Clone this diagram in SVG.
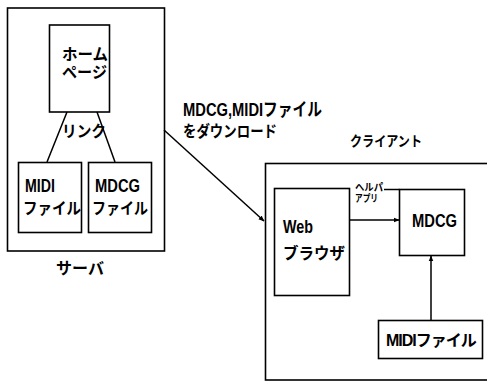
<svg xmlns="http://www.w3.org/2000/svg" width="487" height="382" viewBox="0 0 487 382">
<style>
.box{fill:none;stroke:#000;stroke-width:1.6}
.ln{fill:none;stroke:#000;stroke-width:1.5}
text{font-family:"Liberation Sans","Noto Sans CJK JP",sans-serif;font-weight:bold;fill:#000}
.t16{font-size:16px}
.t18{font-size:18px}
.t10{font-size:10px}
</style>
<defs>
<marker id="ah" viewBox="0 0 10 10" refX="9" refY="5" markerWidth="6" markerHeight="6" orient="auto" markerUnits="userSpaceOnUse">
<path d="M0,1 L10,5 L0,9 Z" fill="#000"/>
</marker>
</defs>
<rect width="487" height="382" fill="#fff"/>
<g id="server">
<rect class="box" x="7.5" y="8" width="157" height="243"/>
<text class="t16" x="80" y="274" text-anchor="middle">サーバ</text>
</g>
<g id="homepage">
<rect class="box" x="49.5" y="25" width="60" height="87"/>
<text class="t16" x="62" y="59.5" textLength="46" lengthAdjust="spacingAndGlyphs">ホーム</text>
<text class="t16" x="62" y="77.5" textLength="45" lengthAdjust="spacingAndGlyphs">ページ</text>
</g>
<g id="midi-file-server">
<rect class="box" x="18.5" y="162.5" width="63" height="70"/>
<text class="t18" x="25" y="192" textLength="30" lengthAdjust="spacingAndGlyphs">MIDI</text>
<text class="t16" x="23" y="214" textLength="58" lengthAdjust="spacingAndGlyphs">ファイル</text>
</g>
<g id="mdcg-file-server">
<rect class="box" x="88.5" y="162.5" width="63" height="70"/>
<text class="t18" x="95" y="192" textLength="45" lengthAdjust="spacingAndGlyphs">MDCG</text>
<text class="t16" x="92" y="214" textLength="56" lengthAdjust="spacingAndGlyphs">ファイル</text>
</g>
<g id="client">
<rect class="box" x="265.5" y="163.5" width="230" height="216.5"/>
<text class="t16" x="350" y="146" textLength="72" lengthAdjust="spacingAndGlyphs" style="font-size:14px">クライアント</text>
</g>
<g id="browser">
<rect class="box" x="274.5" y="188.5" width="75" height="107"/>
<text class="t18" x="283" y="233" textLength="30" lengthAdjust="spacingAndGlyphs">Web</text>
<text class="t16" x="283" y="258.5" textLength="62" lengthAdjust="spacingAndGlyphs">ブラウザ</text>
</g>
<g id="mdcg">
<rect class="box" x="399.5" y="189.5" width="65" height="66"/>
<text class="t18" x="412" y="227" textLength="45" lengthAdjust="spacingAndGlyphs">MDCG</text>
</g>
<g id="midi-file-client">
<rect class="box" x="378.5" y="320.5" width="104" height="38"/>
<text class="t16" x="386" y="346" style="letter-spacing:-1px">MIDIファイル</text>
</g>
<g id="connectors">
<line class="ln" x1="67" y1="112" x2="47" y2="162"/>
<line class="ln" x1="97" y1="112" x2="115" y2="162"/>
<text class="t16" x="62" y="137" textLength="44" lengthAdjust="spacingAndGlyphs">リンク</text>
<line class="ln" x1="164" y1="130" x2="264" y2="221" marker-end="url(#ah)"/>
<text class="t18" x="183" y="116" textLength="139" lengthAdjust="spacingAndGlyphs">MDCG,MIDIファイル</text>
<text class="t16" x="183" y="136.5" textLength="94" lengthAdjust="spacingAndGlyphs">をダウンロード</text>
<line class="ln" x1="349.5" y1="220" x2="399" y2="220" marker-end="url(#ah)"/>
<text class="t10" x="355" y="190.5" textLength="28" lengthAdjust="spacingAndGlyphs">ヘルパ</text>
<line class="ln" x1="384" y1="189.5" x2="399.5" y2="189.5"/>
<text class="t10" x="355" y="201.5" textLength="23" lengthAdjust="spacingAndGlyphs">アプリ</text>
<line class="ln" x1="431" y1="320" x2="431" y2="256" marker-end="url(#ah)"/>
</g>
</svg>
